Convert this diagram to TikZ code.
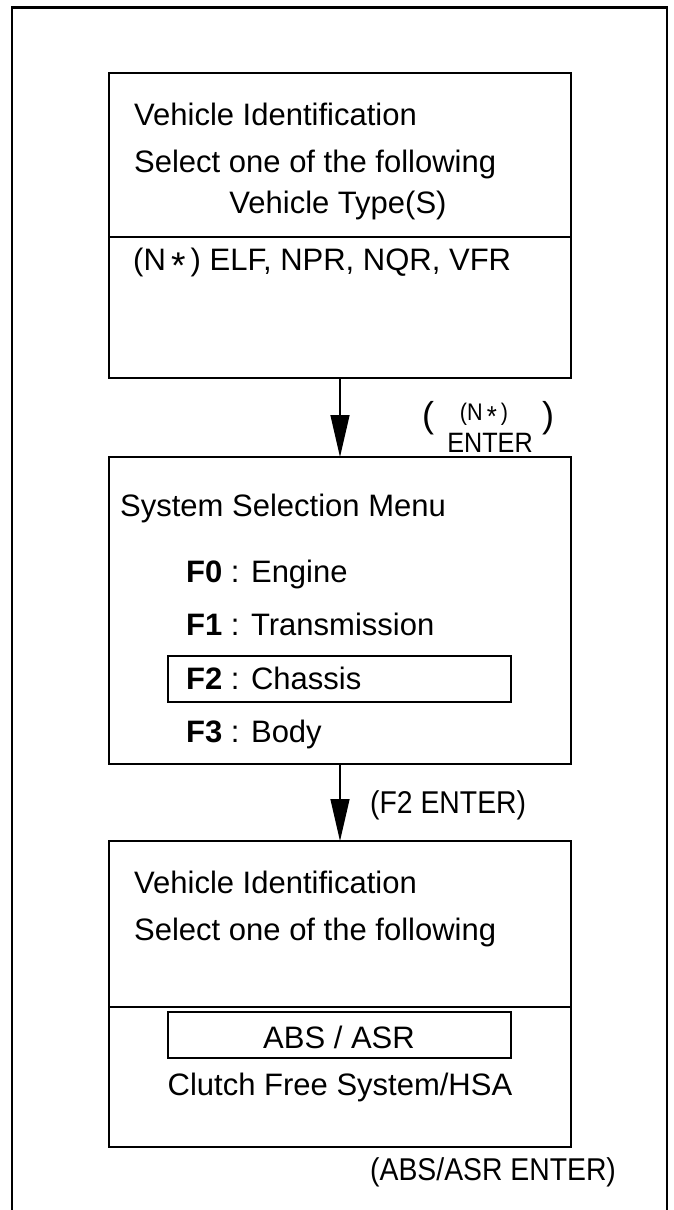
\documentclass[tikz,border=0pt]{standalone}
\usepackage{fontspec}
\usepackage{graphicx}
\setmainfont{Liberation Sans}
\newfontfamily\keyfont[FakeStretch=0.9]{Liberation Sans}
\newcommand\starmark{\raisebox{-0.27em}{\scalebox{1.2}{*}}}
\usepackage{tikz}
\usetikzlibrary{arrows.meta, positioning}
\tikzset{
  screen/.style={rectangle, draw, line width=1.4pt, outer sep=0pt, inner sep=0pt,
                 minimum width=462pt},
  pick/.style={rectangle, draw, line width=1.4pt, outer sep=0pt, inner sep=0pt,
               minimum width=343pt, minimum height=46pt},
  txt/.style={inner sep=0pt, anchor=base west, font=\fontsize{31}{36}\selectfont},
  ctr/.style={txt, anchor=base},
  key/.style={inner sep=0pt, anchor=base west, font=\keyfont\fontsize{31.5}{36}\selectfont},
  keysmall/.style={inner sep=0pt, anchor=base, font=\keyfont\fontsize{28}{32}\selectfont},
  paren/.style={inner sep=0pt, anchor=base, font=\fontsize{36}{40}\selectfont},
  flow/.style={-{Triangle[length=42pt, width=19pt]}, line width=1.4pt},
  frm/.style={line width=2.2pt},
}

\begin{document}
\begin{tikzpicture}[x=1pt, y=-1pt]
  \useasboundingbox (0,0) rectangle (674,1210);
  \draw[frm] (12,1210) |- (667,7.5) -- (667,1210);

  \node[screen, minimum height=164pt] (vid) at (340,155) {};
  \node[screen, minimum height=141pt, below=0pt of vid] (vidList) {};
  \node[txt] (vidT1) at (134,125) {Vehicle Identification};
  \node[txt] (vidT2) at (134,172) {Select one of the following};
  \node[ctr] (vidT3) at (338,213) {Vehicle Type(S)};
  \node[txt] (vidT4) at (133,270) {(N\,\starmark\,) ELF, NPR, NQR, VFR};

  \node[screen, minimum height=307pt] (menu) at (340,610.5) {};
  \node[txt] (menuT) at (120,516) {System Selection Menu};
  \node[txt] (f0) at (186,582) {\textbf{F0} : Engine};
  \node[txt] (f1) at (186,635) {\textbf{F1} : Transmission};
  \node[pick] (f2box) at (339.5,679) {};
  \node[txt] (f2) at (186,689) {\textbf{F2} : Chassis};
  \node[txt] (f3) at (186,742) {\textbf{F3} : Body};

  \node[screen, minimum height=166pt] (sys) at (340,924) {};
  \node[screen, minimum height=140pt, below=0pt of sys] (sysList) {};
  \node[txt] (sysT1) at (134,893) {Vehicle Identification};
  \node[txt] (sysT2) at (134,940) {Select one of the following};
  \node[pick] (absbox) at (339.5,1035) {};
  \node[ctr] (abs) at (339,1048) {ABS / ASR};
  \node[ctr] (cfs) at (340,1095) {Clutch Free System/HSA};

  \draw[flow] (vidList) -- (menu);
  \draw[flow] (menu) -- (sys);

  \node[keysmall, font=\keyfont\fontsize{24}{28}\selectfont] (nstar) at (484,420) {(N\,\starmark\,)};
  \node[keysmall] (nenter) at (490,452) {ENTER};
  \node[paren] (plft) at (428,427) {(};
  \node[paren] (prgt) at (548,427) {)};
  \node[key] (f2key) at (370,813) {(F2 ENTER)};
  \node[key] (abskey) at (370,1180) {(ABS/ASR ENTER)};
\end{tikzpicture}
\end{document}
